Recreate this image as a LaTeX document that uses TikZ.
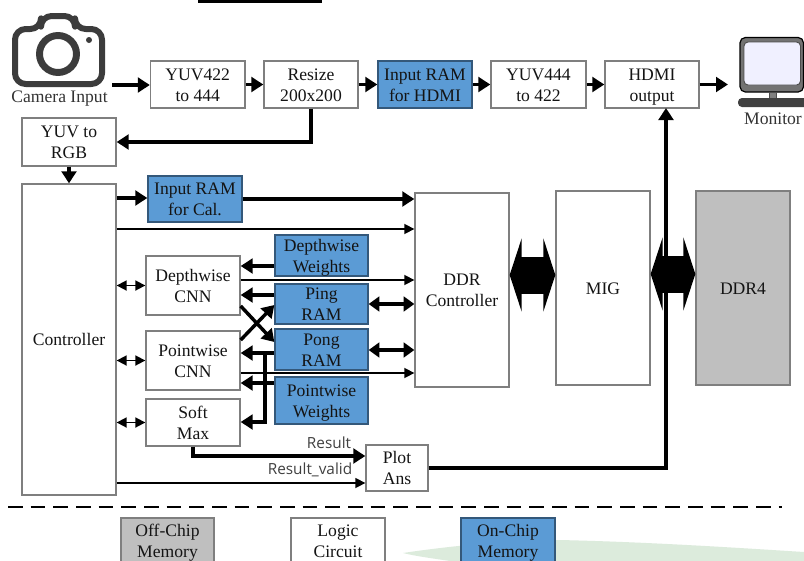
\documentclass[tikz,border=0pt]{standalone}
\usepackage{fontspec}
\setmainfont{Liberation Serif}
\newfontfamily\lblfont{Open Sans}
\usetikzlibrary{arrows.meta,calc}
\definecolor{blockblue}{HTML}{5B9BD5}
\definecolor{blueedge}{HTML}{34587A}
\definecolor{offgray}{HTML}{BFBFBF}
\definecolor{edgegray}{HTML}{7F7F7F}
\definecolor{icondark}{HTML}{3C3C3C}
\definecolor{swoosh}{HTML}{DCEBDC}
\tikzset{
  x=0.75pt,y=-0.75pt,
  blk/.style={draw=edgegray,line width=1pt,fill=white,inner sep=0pt,text=black!92,
    font=\fontsize{13.2}{15.8}\selectfont},
  logicbox/.style={blk},
  ramblue/.style={blk,fill=blockblue,draw=blueedge},
  offchip/.style={blk,fill=offgray},
  iconlabel/.style={inner sep=0pt,text=black!80,font=\fontsize{13.2}{15.8}\selectfont},
  siglabel/.style={inner sep=0pt,text=black!75,font=\lblfont\fontsize{11.5}{13}\selectfont},
  thickarrow/.style={line width=2.6pt,-{Triangle[length=9pt,width=11pt]}},
  thickboth/.style={line width=2.3pt,{Triangle[length=8pt,width=11pt]}-{Triangle[length=8pt,width=11pt]}},
  thinarrow/.style={line width=1.2pt,-{Triangle[length=7.5pt,width=7.5pt]}},
  thinboth/.style={line width=1.3pt,{Triangle[length=7.5pt,width=7.5pt]}-{Triangle[length=7.5pt,width=7.5pt]}},
  busarrow/.style={line width=27.75pt,{Triangle[length=9pt,width=54.75pt]}-{Triangle[length=9pt,width=54.75pt]}},
}
\newcommand{\bx}[8][]{%
  \node[#7,#1,minimum width={(#4-#2)*0.75pt},minimum height={(#5-#3)*0.75pt}] (#6) at ({(#2+#4)/2},{(#3+#5)/2}) {\raisebox{-4.5pt}[0pt][0pt]{\begin{tabular}{@{}c@{}}#8\end{tabular}}}}
\begin{document}
\begin{tikzpicture}
\clip (0,0) rectangle (804,561);
\fill[white] (0,0) rectangle (804,561);
% swoosh and top bar
\fill[swoosh] (403,553) .. controls (450,546) and (510,540) .. (559,540) .. controls (650,542) and (740,548) .. (804,552) -- (804,561) -- (450,561) .. controls (430,558) and (415,556) .. (403,553) -- cycle;
\fill[black] (198,0) rectangle (322,3);
% camera icon
\draw[icondark,line width=4.5pt,rounded corners=8pt,line join=round] (15,29) -- (41,29) -- (41,16) -- (75,16) -- (75,29) -- (102,29) -- (102,84) -- (15,84) -- cycle;
\draw[icondark,line width=5.2pt] (58,54) circle (18.5);
\fill[icondark] (89,40) circle (3);
\node[iconlabel] (camlabel) at (59.5,98.5) {Camera Input};
\coordinate (camout) at (112,85);
% monitor icon
\draw[black,fill=black!55,line width=0.9pt,rounded corners=4pt] (740,37.5) rectangle (803.5,92);
\draw[black!70,fill=blue!6,line width=0.7pt,rounded corners=3pt] (744,42) rectangle (800.5,85);
\draw[black!70,fill=black!50,line width=0.7pt] (769,92) rectangle (776,99);
\fill[black!75,rounded corners=3pt] (738,98) rectangle (810,107);
\node[iconlabel] (monlabel) at (773,118.5) {Monitor};
\coordinate (monin) at (728,84.5);
% boxes
\bx{150.5}{61}{245}{108}{y1}{logicbox} {YUV422\\to 444};
\bx{264}{61}{358}{108}{rs}{logicbox} {Resize\\200x200};
\bx{378}{61}{472}{108}{ramh}{ramblue} {Input RAM\\for HDMI};
\bx{491}{61}{586}{108}{y2}{logicbox} {YUV444\\to 422};
\bx{605}{61}{699}{108}{hdmi}{logicbox} {HDMI\\output};
\bx{22}{118}{116}{166}{rgb}{logicbox} {YUV to\\RGB};
\bx{22}{184}{116}{495}{ctl}{logicbox} {Controller};
\bx{148}{176}{242}{222}{ramc}{ramblue} {Input RAM\\for Cal.};
\bx{415}{193}{509}{387}{ddrc}{logicbox} {DDR\\Controller};
\bx{556}{191}{650}{385}{mig}{logicbox} {MIG};
\bx{696}{191}{790}{385}{ddr}{offchip} {DDR4};
\bx{146}{256}{240}{315}{dw}{logicbox} {Depthwise\\CNN};
\bx{146}{331}{240}{390}{pw}{logicbox} {Pointwise\\CNN};
\bx{146}{399}{240}{446}{sm}{logicbox} {Soft\\Max};
\bx{275}{235}{368}{276}{dww}{ramblue} {Depthwise\\Weights};
\bx{275}{284}{368}{324}{ping}{ramblue} {Ping\\RAM};
\bx{275}{329}{368}{370}{pong}{ramblue} {Pong\\RAM};
\bx{275}{377}{368}{424}{pww}{ramblue} {Pointwise\\Weights};
\bx{366}{445}{428}{491}{plot}{logicbox} {Plot\\Ans};
% connectors: top row
\draw[thickarrow] (camout) -- (y1.west |- camout);
\draw[thickarrow] (y1.east) -- (rs.west);
\draw[thickarrow] (rs.east) -- (ramh.west);
\draw[thickarrow] (ramh.east) -- (y2.west);
\draw[thickarrow] (y2.east) -- (hdmi.west);
\draw[thickarrow] (hdmi.east |- monin) -- (monin);
\draw[line width=2.6pt,-{Triangle[length=9pt,width=11pt]}] (rs.south) |- (rgb.east |- 0,142);
\draw[thickarrow] (rgb.south) -- (ctl.north);
% controller
\draw[thickarrow] (ctl.east |- 0,198) -- (ramc.west |- 0,198);
\draw[thickarrow] (ramc.east |- 0,199) -- (ddrc.west |- 0,199);
\draw[thinarrow] (ctl.east |- 0,229) -- (ddrc.west |- 0,229);
\draw[thinboth] (ctl.east |- dw.west) -- (dw.west);
\draw[thinboth] (ctl.east |- pw.west) -- (pw.west);
\draw[thinboth] (ctl.east |- sm.west) -- (sm.west);
% CNN connections
\draw[thickarrow] (dww.west |- 0,266) -- (dw.east |- 0,266);
\draw[thinarrow] (dw.east |- 0,280) -- (ddrc.west |- 0,280);
\draw[thickarrow] (ping.west |- 0,295) -- (dw.east |- 0,295);
\draw[thickarrow] (dw.east |- 0,306) -- (pong.west |- 0,342);
\draw[thickarrow] (pw.east |- 0,340) -- (ping.west |- 0,305);
\draw[thickarrow] (pong.west |- 0,353) -- (pw.east |- 0,353);
\draw[thickarrow] (pww.west |- 0,383) -- (pw.east |- 0,383);
\draw[thickarrow] (265,353) |- (sm.east |- 0,422);
\draw[thinarrow] (pw.east |- 0,373) -- (ddrc.west |- 0,373);
\draw[thickboth] (ping.east |- 0,304) -- (ddrc.west |- 0,304);
\draw[thickboth] (pong.east |- 0,350) -- (ddrc.west |- 0,350);
% result
\draw[thickarrow] (sm.south) |- (plot.west |- 0,456);
\draw[thinarrow] (ctl.east |- 0,483) -- (plot.west |- 0,483);
\node[siglabel] (reslbl) at (329,443) {Result};
\node[siglabel] (validlbl) at (310,470) {Result\_valid};
\draw[line width=2.8pt,-{Triangle[length=9pt,width=11pt]}] (plot.east) -| (666,108);
% buses
\draw[busarrow] (ddrc.east |- 0,275) -- (mig.west |- 0,275);
\draw[busarrow] (mig.east |- 0,274) -- (ddr.west |- 0,274);
% legend
\draw[black,line width=1.3pt,dash pattern=on 11pt off 6pt] (8,507) -- (782,507);
\bx{121}{518}{214}{563}{lg1}{offchip} {Off-Chip\\Memory};
\bx{291}{518}{385}{563}{lg2}{logicbox} {Logic\\Circuit};
\bx{461}{518}{555}{563}{lg3}{ramblue} {On-Chip\\Memory};
\end{tikzpicture}
\end{document}
